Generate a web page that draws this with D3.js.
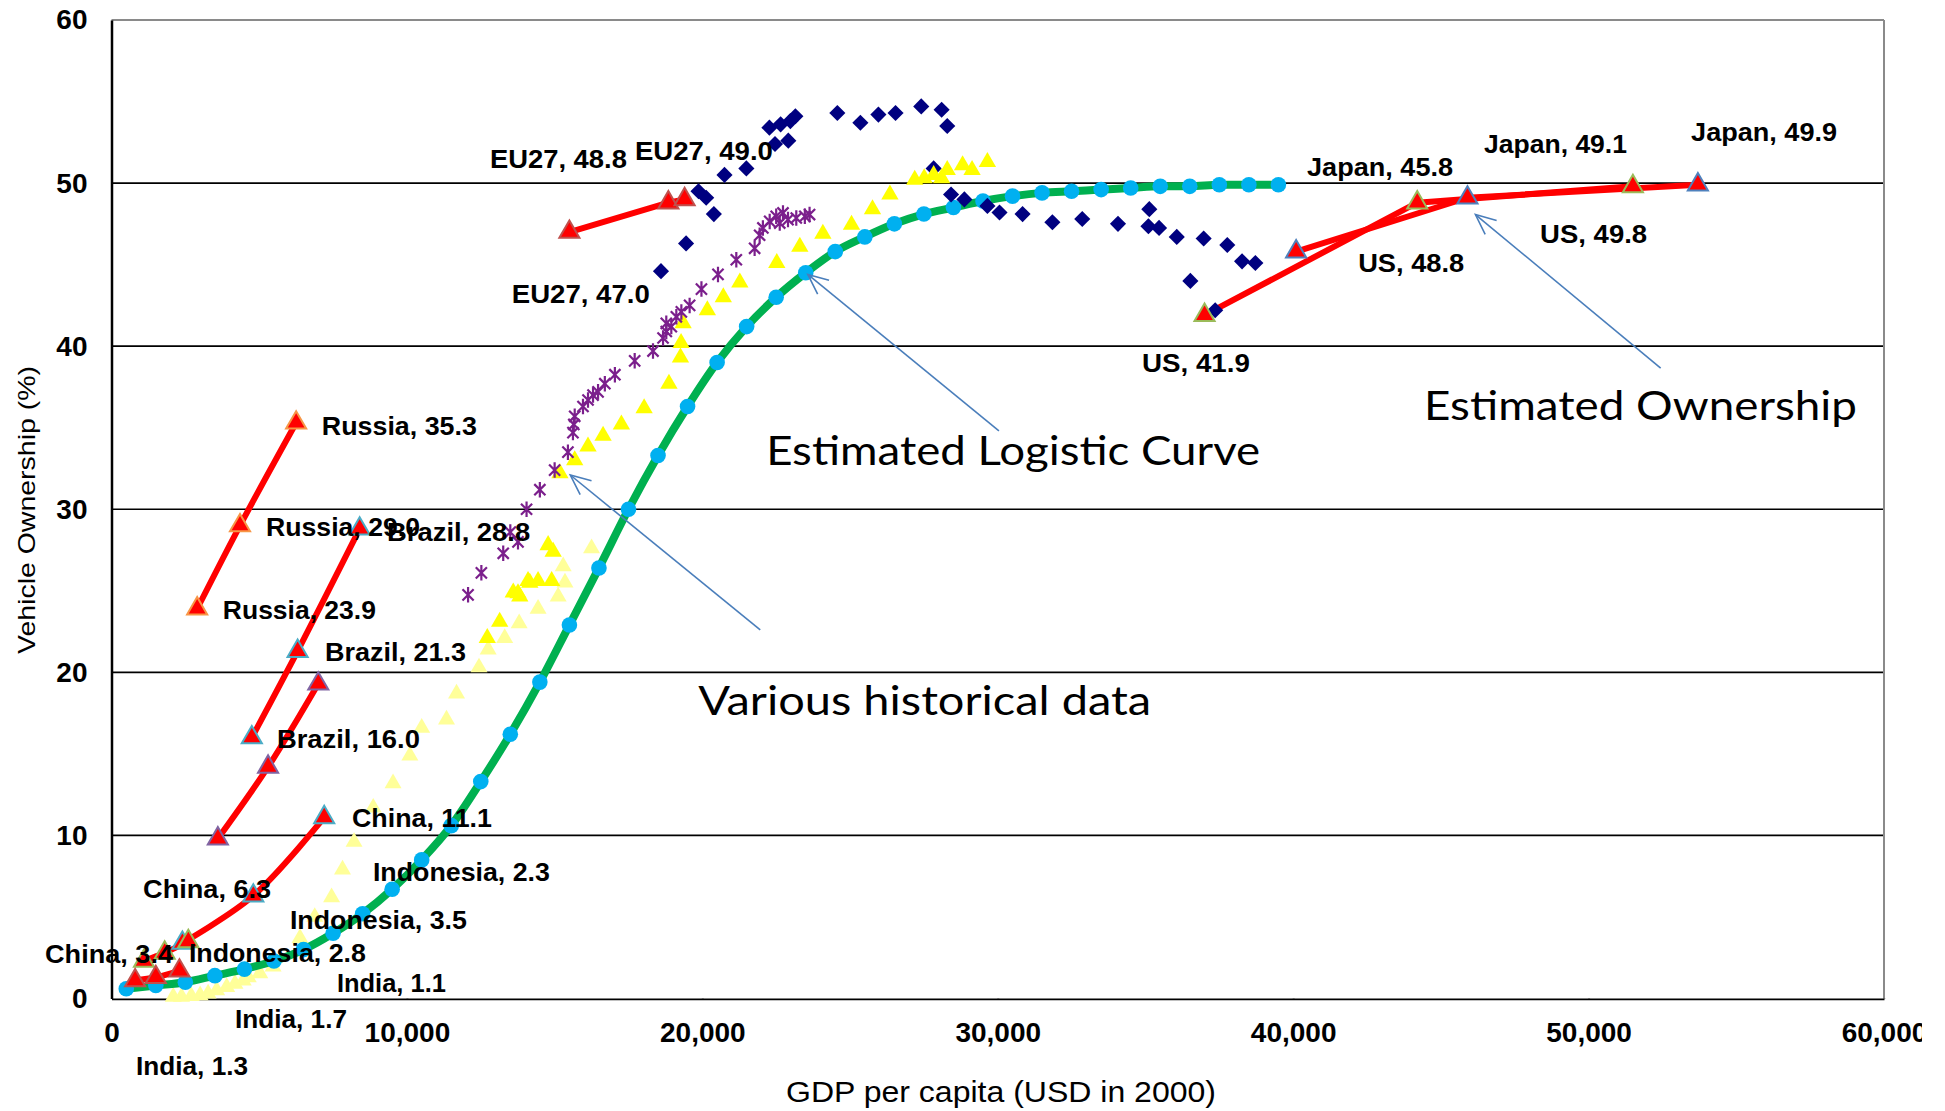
<!DOCTYPE html>
<html>
<head>
<meta charset="utf-8">
<script src="https://cdn.jsdelivr.net/npm/d3@7"></script>
<style>
  html, body { margin: 0; padding: 0; background: #fff; }
  svg { display: block; }
</style>
</head>
<body>
<svg id="chart" width="1945" height="1111"></svg>
<script>
// ---------- axis ticks ----------
const xTicks = [0, 10000, 20000, 30000, 40000, 50000, 60000];
const yTicks = [0, 10, 20, 30, 40, 50, 60];

// ---------- estimated logistic curve (GDP per capita, ownership %) ----------
const logisticGdp = [500, 1500, 2500, 3500, 4500, 5500, 6500, 7500, 8500, 9500,
  10500, 11500, 12500, 13500, 14500, 15500, 16500, 17500, 18500, 19500,
  20500, 21500, 22500, 23500, 24500, 25500, 26500, 27500, 28500, 29500,
  30500, 31500, 32500, 33500, 34500, 35500, 36500, 37500, 38500, 39500];
const logisticOwn = [0.6, 0.8, 1.0, 1.4, 1.8, 2.3, 3.0, 4.0, 5.2, 6.7,
  8.5, 10.6, 13.3, 16.2, 19.4, 22.9, 26.4, 30.0, 33.3, 36.3,
  39.0, 41.2, 43.0, 44.5, 45.8, 46.7, 47.5, 48.1, 48.5, 48.9,
  49.2, 49.4, 49.5, 49.6, 49.7, 49.8, 49.8, 49.9, 49.9, 49.9];

// ---------- estimated ownership by country ----------
const russiaGdp = [2900, 4350, 6250];      const russiaOwn = [23.9, 29.0, 35.3];
const brazilGdp = [4750, 6300, 8400];      const brazilOwn = [16.0, 21.3, 28.8];
const unnamedGdp = [3600, 5300, 7000];     const unnamedOwn = [9.8, 14.2, 19.3];
const chinaGdp = [2400, 4800, 7200];       const chinaOwn = [3.4, 6.3, 11.1];
const indonesiaGdp = [1100, 1800, 2600];   const indonesiaOwn = [2.3, 2.8, 3.5];
const indiaGdp = [800, 1500, 2300];        const indiaOwn = [1.1, 1.3, 1.7];
const eu27Gdp = [15500, 18850, 19400];     const eu27Own = [47.0, 48.8, 49.0];
const usGdp = [37000, 44200, 51500];       const usOwn = [41.9, 48.8, 49.8];
const japanGdp = [40100, 45900, 53700];    const japanOwn = [45.8, 49.1, 49.9];

// ---------- historical observations ----------
const navyGdp = [18600, 19450, 19870, 20130, 20390, 20750, 21490, 22270, 22460, 22650,
  22910, 22980, 23150, 24570, 25350, 25960, 26540, 27410, 27830, 28100,
  28290, 28420, 28870, 29650, 30060, 30840, 31850, 32860, 34070, 35130,
  35100, 35460, 36060, 36520, 36970, 37360, 37770, 38270, 38720];
const navyOwn = [44.6, 46.3, 49.5, 49.1, 48.1, 50.5, 50.9, 53.4, 52.4, 53.6,
  52.6, 53.8, 54.1, 54.3, 53.7, 54.2, 54.3, 54.7, 50.9, 54.5,
  53.5, 49.3, 49.0, 48.6, 48.2, 48.1, 47.6, 47.8, 47.5, 48.4,
  47.35, 47.25, 46.7, 44.0, 46.6, 42.2, 46.2, 45.2, 45.1];

const purpleGdp = [12070, 12520, 13260, 13500, 13760, 14050, 14500, 15000, 15450, 15620,
  15650, 15680, 15960, 16130, 16300, 16470, 16700, 17040, 17710, 18330,
  18670, 18780, 18950, 18780, 19120, 19290, 19570, 19970, 20530, 21150,
  21770, 21940, 22050, 22280, 22500, 22730, 22620, 22900, 23180, 23470, 23630];
const purpleOwn = [24.75, 26.1, 27.3, 28.6, 28.0, 30.0, 31.2, 32.4, 33.5, 34.7,
  35.2, 35.7, 36.3, 36.7, 37.0, 37.2, 37.7, 38.25, 39.1, 39.7,
  40.5, 40.9, 41.2, 41.4, 41.8, 42.1, 42.5, 43.5, 44.4, 45.3,
  46.0, 46.8, 47.25, 47.65, 47.96, 48.17, 47.55, 47.76, 47.86, 47.96, 48.07];

const yellowGdp = [12720, 13140, 13600, 13760, 13820, 14100, 14160, 14440, 14900, 14780,
  14950, 15180, 15680, 16130, 16640, 17260, 18030, 18870, 19260, 19280,
  19350, 20170, 20710, 21270, 22520, 23300, 24080, 25050, 25760, 26350,
  27190, 27510, 27830, 28100, 28290, 28810, 29130, 29650];
const yellowOwn = [22.1, 23.1, 24.9, 24.85, 24.65, 25.6, 25.5, 25.6, 25.6, 27.8,
  27.4, 32.2, 33.0, 33.85, 34.5, 35.2, 36.2, 37.7, 39.3, 40.2,
  41.4, 42.2, 43.0, 43.9, 45.1, 46.1, 46.9, 47.45, 48.4, 49.3,
  50.2, 50.3, 50.5, 50.3, 50.8, 51.1, 50.8, 51.3];

const paleGdp = [2090, 2370, 2700, 3000, 3270, 3560, 3900, 4180, 4460, 4630,
  5020, 5470, 6380, 6880, 7450, 7820, 8210, 8860, 9530, 10100,
  10500, 11340, 11680, 12440, 12750, 13310, 13800, 14440, 15120, 15350,
  15290, 16250];
const paleOwn = [0.1, 0.1, 0.15, 0.2, 0.3, 0.5, 0.7, 0.9, 1.1, 1.3,
  1.55, 1.95, 3.7, 5.0, 6.2, 7.9, 9.6, 11.7, 13.2, 14.9,
  16.6, 17.1, 18.7, 20.3, 21.4, 22.1, 23.0, 23.9, 24.65, 25.5,
  26.5, 27.6];

// ---------- layout ----------
const svg = d3.select("#chart");
const x = d3.scaleLinear().domain([0, 60000]).range([111.5, 1884]);
const y = d3.scaleLinear().domain([0, 60]).range([998.5, 20]);
const zip = (xs, ys) => xs.map((v, i) => ({ gdp: v, own: ys[i] }));

const estimates = [
  { name: "Russia",    pts: zip(russiaGdp, russiaOwn),       edge: "#F79646", smooth: true },
  { name: "Brazil",    pts: zip(brazilGdp, brazilOwn),       edge: "#4BACC6", smooth: true },
  { name: "",          pts: zip(unnamedGdp, unnamedOwn),     edge: "#8064A2", smooth: true },
  { name: "China",     pts: zip(chinaGdp, chinaOwn),         edge: "#4BACC6", smooth: true },
  { name: "Indonesia", pts: zip(indonesiaGdp, indonesiaOwn), edge: "#9BBB59", smooth: true },
  { name: "India",     pts: zip(indiaGdp, indiaOwn),         edge: "#C0504D", smooth: true },
  { name: "EU27",      pts: zip(eu27Gdp, eu27Own),           edge: "#C0504D", smooth: false },
  { name: "US",        pts: zip(usGdp, usOwn),               edge: "#9BBB59", smooth: false },
  { name: "Japan",     pts: zip(japanGdp, japanOwn),         edge: "#4F81BD", smooth: false }
];

// Data-label anchors (left end, baseline) in chart units plus drawn width in px
const labelPlacement = {
  Russia:    [[3770, 23.28, 153], [5230, 28.37, 154], [7120, 34.57, 155]],
  Brazil:    [[5600, 15.37, 143], [7230, 20.70, 141], [9330, 28.07, 143]],
  China:     [[-2250, 2.18, 128], [1070, 6.17, 128], [8140, 10.52, 140]],
  Indonesia: [[8850, 7.21, 177], [2620, 2.24, 177], [6040, 4.27, 177]],
  India:     [[7630, 0.40, 109], [830, -4.69, 112], [4180, -1.81, 112]],
  EU27:      [[13550, 42.67, 138], [12810, 50.90, 137], [17720, 51.40, 138]],
  US:        [[34880, 38.44, 108], [42200, 44.57, 106], [48360, 46.34, 107]],
  Japan:     [[40470, 50.45, 146], [46460, 51.86, 143], [53470, 52.60, 146]]
};
const narrowLabelSeries = new Set(["EU27", "US", "Japan"]);

// Call-out arrows: tail -> tip, in chart units
const arrows = [
  { from: [21960, 22.6], to: [15530, 32.1] },
  { from: [30040, 34.8], to: [23570, 44.4] },
  { from: [52440, 38.66], to: [46170, 48.07] }
];
const notes = [
  { text: "Estimated Logistic Curve", at: [22160, 32.73], width: 494 },
  { text: "Various historical data",  at: [19860, 17.40], width: 453 },
  { text: "Estimated Ownership",      at: [44430, 35.50], width: 433 }
];

const ARIAL = "'Liberation Sans', Arial, Helvetica, sans-serif";

// ---------- grid & frame ----------
const grid = svg.append("g");
grid.selectAll("line.h").data(yTicks.filter(t => t > 0 && t < 60)).join("line")
  .attr("x1", x(0)).attr("x2", x(60000))
  .attr("y1", d => y(d)).attr("y2", d => y(d))
  .attr("stroke", "#000").attr("stroke-width", 1.6);
grid.append("line")
  .attr("x1", x(0)).attr("x2", x(60000)).attr("y1", y(60)).attr("y2", y(60))
  .attr("stroke", "#8a8a8a").attr("stroke-width", 2);
grid.append("line")
  .attr("x1", x(60000)).attr("x2", x(60000)).attr("y1", y(60)).attr("y2", y(0))
  .attr("stroke", "#8a8a8a").attr("stroke-width", 2);

// ---------- axes ----------
const yAxis = d3.axisLeft(y).tickValues(yTicks).tickSize(0).tickPadding(24).tickFormat(d3.format("d"));
svg.append("g").attr("transform", `translate(${x(0)},0)`).call(yAxis)
  .call(g => g.select(".domain").attr("stroke", "#000").attr("stroke-width", 2.5))
  .call(g => g.selectAll("text").attr("font-family", ARIAL).attr("font-weight", "bold")
    .attr("font-size", 28).attr("fill", "#000"));

svg.append("defs").append("clipPath").attr("id", "xclip")
  .append("rect").attr("x", -20).attr("y", 0).attr("width", 1922 + 20).attr("height", 1111);

const xAxis = d3.axisBottom(x).tickValues(xTicks).tickSizeInner(-9).tickSizeOuter(0)
  .tickPadding(24).tickFormat(d3.format(","));
svg.append("g").attr("transform", `translate(0,${y(0)})`).attr("clip-path", "url(#xclip)").call(xAxis)
  .call(g => g.select(".domain").attr("stroke", "#000").attr("stroke-width", 2.5))
  .call(g => g.selectAll(".tick line").attr("stroke", "#000").attr("stroke-width", 2))
  .call(g => g.selectAll("text").attr("font-family", ARIAL).attr("font-weight", "bold")
    .attr("font-size", 28).attr("fill", "#000"));

// axis titles
svg.append("text")
  .attr("transform", `translate(35,510) rotate(-90)`)
  .attr("text-anchor", "middle").attr("font-family", ARIAL).attr("font-size", 24)
  .attr("textLength", 288).attr("lengthAdjust", "spacingAndGlyphs")
  .text("Vehicle Ownership (%)");
svg.append("text")
  .attr("x", 1001).attr("y", 1102)
  .attr("text-anchor", "middle").attr("font-family", ARIAL).attr("font-size", 30)
  .attr("textLength", 430).attr("lengthAdjust", "spacingAndGlyphs")
  .text("GDP per capita (USD in 2000)");

// ---------- marks ----------
const tri = (size) => d3.symbol().type(d3.symbolTriangle).size(size)();
const asterisk = {
  draw(ctx, size) {
    const r = Math.sqrt(size) / 2, d = r * 0.72;
    ctx.moveTo(0, -r); ctx.lineTo(0, r);
    ctx.moveTo(-d, -d); ctx.lineTo(d, d);
    ctx.moveTo(-d, d); ctx.lineTo(d, -d);
  }
};

// pale yellow historical triangles
svg.append("g").selectAll("path").data(zip(paleGdp, paleOwn)).join("path")
  .attr("d", tri(125)).attr("fill", "#FFFF99")
  .attr("transform", d => `translate(${x(d.gdp)},${y(d.own)})`);

// logistic curve
const logistic = zip(logisticGdp, logisticOwn);
svg.append("path").datum(logistic)
  .attr("d", d3.line().x(d => x(d.gdp)).y(d => y(d.own)).curve(d3.curveMonotoneX))
  .attr("fill", "none").attr("stroke", "#00B050").attr("stroke-width", 8).attr("stroke-linejoin", "round");
svg.append("g").selectAll("circle").data(logistic).join("circle")
  .attr("cx", d => x(d.gdp)).attr("cy", d => y(d.own)).attr("r", 7.8).attr("fill", "#00B0F0");

// estimated-ownership lines
const smoothLine = d3.line().x(d => x(d.gdp)).y(d => y(d.own)).curve(d3.curveCatmullRom.alpha(0.5));
const straightLine = d3.line().x(d => x(d.gdp)).y(d => y(d.own));
svg.append("g").selectAll("path").data(estimates).join("path")
  .attr("d", d => (d.smooth ? smoothLine : straightLine)(d.pts))
  .attr("fill", "none").attr("stroke", "#FF0000").attr("stroke-width", 6)
  .attr("stroke-linecap", "round").attr("stroke-linejoin", "round");

// navy diamonds
svg.append("g").selectAll("path").data(zip(navyGdp, navyOwn)).join("path")
  .attr("d", d3.symbol().type(d3.symbolSquare).size(130)())
  .attr("fill", "#000080")
  .attr("transform", d => `translate(${x(d.gdp)},${y(d.own)}) rotate(45)`);

// bright yellow triangles
svg.append("g").selectAll("path").data(zip(yellowGdp, yellowOwn)).join("path")
  .attr("d", tri(130)).attr("fill", "#FFFF00")
  .attr("transform", d => `translate(${x(d.gdp)},${y(d.own)})`);

// purple asterisks
svg.append("g").selectAll("path").data(zip(purpleGdp, purpleOwn)).join("path")
  .attr("d", d3.symbol().type(asterisk).size(240)())
  .attr("fill", "none").attr("stroke", "#7B1F8C").attr("stroke-width", 2.2)
  .attr("transform", d => `translate(${x(d.gdp)},${y(d.own)})`);

// estimated-ownership triangles
const estPts = estimates.flatMap(s => s.pts.map(p => ({ ...p, edge: s.edge })));
svg.append("g").selectAll("path").data(estPts).join("path")
  .attr("d", tri(175)).attr("fill", "#FF0000")
  .attr("stroke", d => d.edge).attr("stroke-width", 2)
  .attr("transform", d => `translate(${x(d.gdp)},${y(d.own)})`);

// ---------- call-out arrows ----------
const arrowG = svg.append("g").attr("stroke", "#4A7EBB").attr("stroke-width", 1.6).attr("fill", "none");
arrows.forEach(a => {
  const fx = x(a.from[0]), fy = y(a.from[1]), tx = x(a.to[0]), ty = y(a.to[1]);
  arrowG.append("line").attr("x1", fx).attr("y1", fy).attr("x2", tx).attr("y2", ty);
  const ang = Math.atan2(fy - ty, fx - tx), len = 22, spread = 0.42;
  const p1 = [tx + len * Math.cos(ang + spread), ty + len * Math.sin(ang + spread)];
  const p2 = [tx + len * Math.cos(ang - spread), ty + len * Math.sin(ang - spread)];
  arrowG.append("path").attr("d", `M${p1[0]},${p1[1]}L${tx},${ty}L${p2[0]},${p2[1]}`);
});

// ---------- annotations ----------
svg.append("g").selectAll("text").data(notes).join("text")
  .attr("x", d => x(d.at[0])).attr("y", d => y(d.at[1]))
  .attr("font-family", "Lato, 'Open Sans', sans-serif").attr("font-size", 40).attr("fill", "#000")
  .attr("textLength", d => d.width).attr("lengthAdjust", "spacingAndGlyphs")
  .text(d => d.text);

// ---------- data labels ----------
const fmt = d3.format(".1f");
const labels = estimates.filter(s => labelPlacement[s.name]).flatMap(s =>
  s.pts.map((p, i) => {
    const [lx, ly, w] = labelPlacement[s.name][i];
    return { text: `${s.name}, ${fmt(p.own)}`, lx, ly, w, narrow: narrowLabelSeries.has(s.name) };
  }));
svg.append("g").selectAll("text").data(labels).join("text")
  .attr("x", d => x(d.lx)).attr("y", d => y(d.ly))
  .attr("font-family", ARIAL).attr("font-weight", "bold")
  .attr("font-size", d => d.narrow ? 25 : 26.5).attr("fill", "#000")
  .attr("textLength", d => d.w).attr("lengthAdjust", "spacingAndGlyphs")
  .text(d => d.text);
</script>
</body>
</html>
